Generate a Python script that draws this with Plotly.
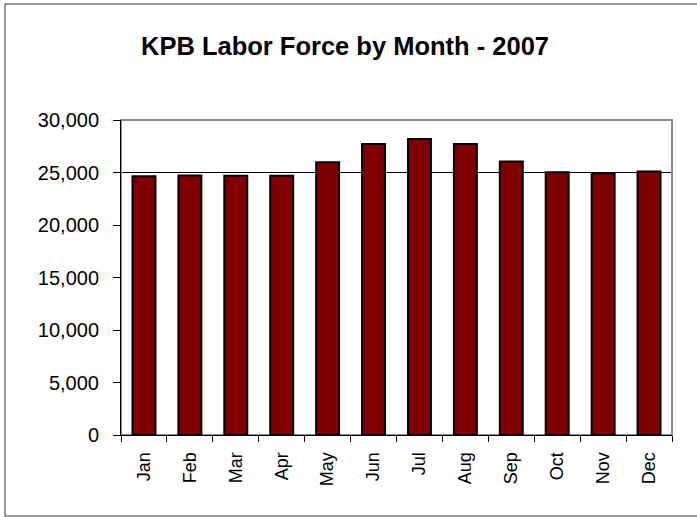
import plotly.graph_objects as go

months = ["Jan", "Feb", "Mar", "Apr", "May", "Jun", "Jul", "Aug", "Sep", "Oct", "Nov", "Dec"]
labor_force = [24650, 24710, 24700, 24700, 25980, 27720, 28190, 27720, 26040, 25030, 24930, 25090]
y_ticks = [0, 5000, 10000, 15000, 20000, 25000, 30000]
title_text = "KPB Labor Force by Month - 2007"

W, H = 697, 517
L, R, T, B = 121, 25, 120, 82
pw, ph = W - L - R, H - T - B

def px_x(p):
    return (p - L) / pw

def px_y(p):
    return (H - B - p) / ph

fig = go.Figure(go.Bar(
    x=months, y=labor_force,
    marker=dict(color="#800000", line=dict(color="black", width=2)),
))

fig.update_layout(
    width=W, height=H,
    margin=dict(l=L, r=R, t=T, b=B),
    paper_bgcolor="white", plot_bgcolor="white",
    bargap=0.5,
    showlegend=False,
    font=dict(family="Liberation Sans, Arial", size=20, color="black"),
    title=dict(text="<b>" + title_text + "</b>", x=345 / W, xref="container", xanchor="center",
               y=1 - 46 / H, yanchor="middle",
               font=dict(size=25.5, family="Liberation Sans, Arial", color="black")),
)
fig.update_xaxes(
    type="category", tickangle=-90, showline=True, linecolor="black", linewidth=1,
    ticks="outside", tickson="boundaries", ticklen=6, tickcolor="black",
    showgrid=False, tickfont=dict(size=18), ticklabelstandoff=9,
)
fig.update_yaxes(
    range=[0, 30000], tickvals=y_ticks, tickformat=",d",
    showline=True, linecolor="black", linewidth=1,
    ticks="outside", ticklen=7, tickcolor="black", showgrid=False, zeroline=False,
    ticklabelstandoff=10, tickfont=dict(size=20),
)

shapes = [
    dict(type="line", xref="paper", yref="y", x0=0, x1=1, y0=25000, y1=25000,
         line=dict(color="black", width=1), layer="below"),
    dict(type="rect", xref="paper", yref="paper", x0=0, x1=1, y0=0, y1=1,
         line=dict(color="#8c8c8c", width=2), layer="below"),
    dict(type="rect", xref="paper", yref="paper",
         x0=px_x(5), x1=px_x(699), y0=px_y(516), y1=px_y(4),
         line=dict(color="#333333", width=1), layer="below"),
]
fig.update_layout(shapes=shapes)

fig.write_html("out.html", config={"displayModeBar": False},
               post_script="document.body.style.margin='0';")
